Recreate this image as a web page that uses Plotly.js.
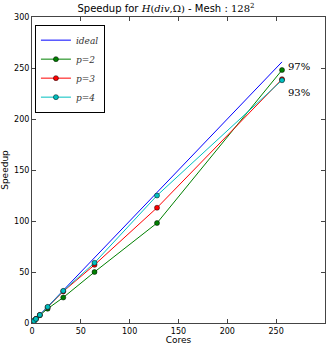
<!DOCTYPE html>
<html><head><meta charset="utf-8">
<script src="https://cdn.plot.ly/plotly-3.0.1.min.js"></script>
<style>html,body{margin:0;padding:0;background:#fff;}</style>
</head><body>
<div id="chart" style="width:332px;height:345px;"></div>
<script>
const cores = [1, 2, 4, 8, 16, 32, 64, 128, 256];
const ideal = [1, 2, 4, 8, 16, 32, 64, 128, 256];
const p2 = [1, 2, 3.9, 7.6, 14, 25, 50, 98, 248];
const p3 = [1, 2, 4, 7.8, 15.5, 31, 57, 113, 239];
const p4 = [1, 2, 4, 7.9, 15.8, 31.5, 59, 125, 238];
const seriesNames = ['ideal', 'p=2', 'p=3', 'p=4'];
const effLabels = ['97%', '93%'];
const effX = [260, 260];
const effY = [251, 226];

const serif = 'DejaVu Serif, Liberation Serif, serif';
const sans = 'DejaVu Sans, sans-serif';
const mk = (y, name, color, markers) => ({
  x: cores, y: y, name: '<i>' + name + '</i>',
  type: 'scatter', mode: markers ? 'lines+markers' : 'lines',
  line: {color: color, width: 1},
  marker: {color: color, size: 5, line: {width: 0.5, color: '#000'}}
});
const data = [
  mk(ideal, seriesNames[0], '#0000ff', false),
  mk(p2, seriesNames[1], '#008000', true),
  mk(p3, seriesNames[2], '#ff0000', true),
  mk(p4, seriesNames[3], '#00bfbf', true)
];
const axisCommon = {
  range: [0, 300], dtick: 50, tick0: 0,
  showgrid: false, zeroline: false,
  showline: true, linecolor: '#444', linewidth: 1, mirror: 'allticks',
  ticks: 'inside', ticklen: 4, tickcolor: '#444',
  tickfont: {family: sans, size: 8, color: '#000'}
};
const layout = {
  width: 332, height: 345,
  margin: {l: 32, r: 7, t: 17, b: 22},
  paper_bgcolor: '#fff', plot_bgcolor: '#fff',
  title: {
    text: 'Speedup for <span style="font-family:DejaVu Serif"><i>H</i>(<i>div</i>,Ω)</span> - Mesh : <span style="font-family:DejaVu Serif">128<sup>2</sup></span>',
    font: {family: sans, size: 10, color: '#000'},
    x: 0.5, xanchor: 'center', y: 0.985, yanchor: 'top'
  },
  xaxis: Object.assign({}, axisCommon, {
    title: {text: 'Cores', font: {family: sans, size: 9, color: '#000'}, standoff: 1}
  }),
  yaxis: Object.assign({}, axisCommon, {
    title: {text: 'Speedup', font: {family: sans, size: 9, color: '#000'}, standoff: 4}
  }),
  showlegend: true,
  legend: {
    x: 0.01, y: 0.975, xanchor: 'left', yanchor: 'top',
    bordercolor: '#000', borderwidth: 1, bgcolor: '#fff',
    font: {family: serif, size: 9, color: '#333'},
    itemwidth: 30, tracegroupgap: 0
  },
  annotations: effLabels.map((t, i) => ({
    x: effX[i], y: effY[i], xref: 'x', yref: 'y', text: t,
    showarrow: false, xanchor: 'left', yanchor: 'middle',
    font: {family: serif, size: 10, color: '#000'}
  }))
};
Plotly.newPlot('chart', data, layout, {displayModeBar: false, staticPlot: true});
</script>
</body></html>
